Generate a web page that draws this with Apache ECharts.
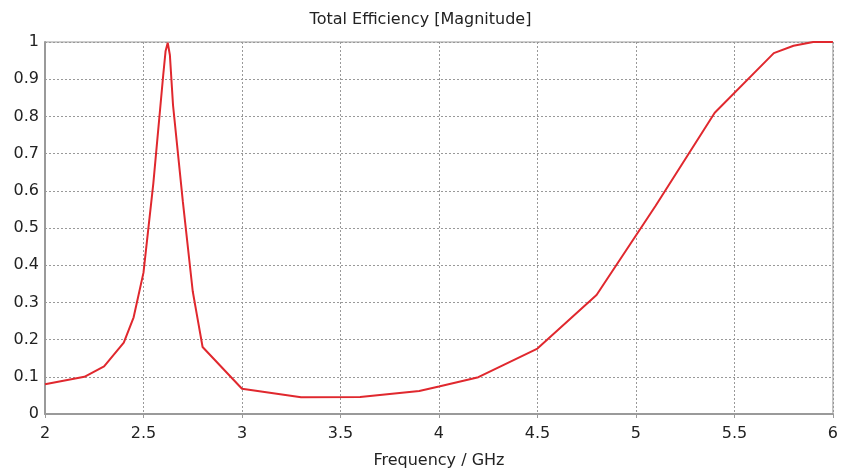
<!DOCTYPE html>
<html><head><meta charset="utf-8">
<script src="https://cdn.jsdelivr.net/npm/echarts@6/dist/echarts.min.js"></script>
<style>html,body{margin:0;padding:0;background:#fff}#c{width:841px;height:474px}</style>
</head><body><div id="c"></div>
<script>
var freq = [2.0, 2.2, 2.3, 2.4, 2.45, 2.5, 2.55, 2.6, 2.612, 2.623, 2.634, 2.65, 2.7, 2.75, 2.77, 2.8, 3.0, 3.3, 3.6, 3.9, 4.0, 4.2, 4.5, 4.8, 5.1, 5.4, 5.7, 5.8, 5.9, 6.0];
var eff  = [0.08, 0.10, 0.128, 0.192, 0.26, 0.38, 0.62, 0.91, 0.975, 0.998, 0.965, 0.83, 0.57, 0.33, 0.27, 0.18, 0.068, 0.045, 0.046, 0.062, 0.074, 0.099, 0.176, 0.32, 0.56, 0.81, 0.97, 0.99, 1.0, 1.0];
var titleText = "Total Efficiency [Magnitude]";
var xName = "Frequency / GHz";

var chart = echarts.init(document.getElementById('c'), null, {renderer:'canvas'});
var font = "'DejaVu Sans', sans-serif";
chart.setOption({
  animation:false,
  title:{text:titleText,left:'center',top:7,textStyle:{fontFamily:font,fontSize:16,fontWeight:'normal',color:'#222'}},
  grid:{left:45,right:4,top:42,bottom:59,show:true,borderColor:'#9a9a9a',borderWidth:1},
  xAxis:{type:'value',min:2,max:6,interval:0.5,name:xName,nameLocation:'middle',nameGap:39,
    nameTextStyle:{fontFamily:font,fontSize:16,color:'#222'},
    axisLine:{show:true,lineStyle:{color:'#9a9a9a',width:2}},
    axisTick:{show:true,length:4,lineStyle:{color:'#9a9a9a'}},
    axisLabel:{fontFamily:font,fontSize:16,color:'#222',margin:12},
    splitLine:{show:true,lineStyle:{color:'#999',type:[2,2],width:1}}},
  yAxis:{type:'value',min:0,max:1,interval:0.1,
    axisLine:{show:true,lineStyle:{color:'#9a9a9a',width:2}},
    axisTick:{show:false},
    axisLabel:{fontFamily:font,fontSize:16,color:'#222',margin:6,formatter:function(v){return String(Math.round(v*10)/10);}},
    splitLine:{show:true,lineStyle:{color:'#999',type:[2,2],width:1}}},
  series:[{type:'line',data:freq.map(function(f,i){return [f,eff[i]];}),showSymbol:false,
    lineStyle:{color:'#e0282e',width:2},smooth:false}]
});
</script></body></html>
